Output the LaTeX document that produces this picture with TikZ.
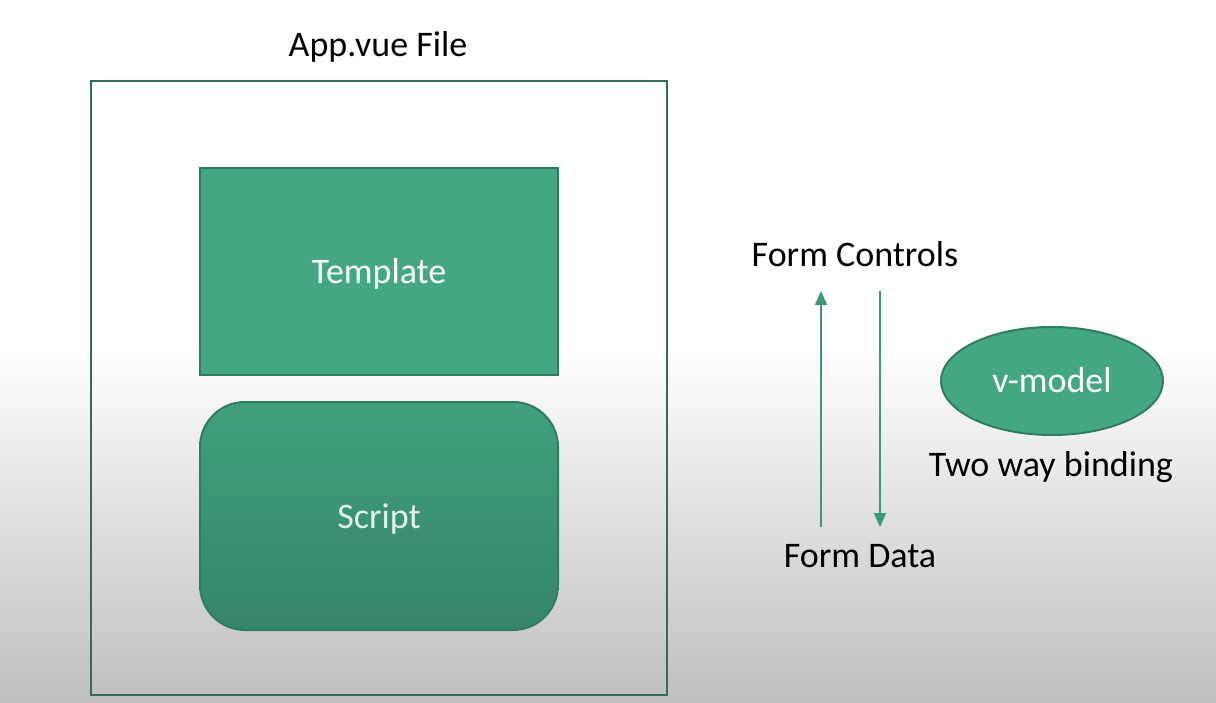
\documentclass[tikz,border=0pt]{standalone}
\usepackage{fontspec}
\setmainfont{Carlito}
\usetikzlibrary{shapes.geometric,arrows.meta}
\definecolor{boxline}{HTML}{2E6E5A}
\definecolor{greenfill}{HTML}{43A881}
\definecolor{greenedge}{HTML}{2F7D60}
\definecolor{scripttop}{HTML}{3FA07C}
\definecolor{scriptbot}{HTML}{358669}
\definecolor{arrowgreen}{HTML}{3A9A78}
\definecolor{bgbot}{HTML}{BFBFBF}
\tikzset{
  bigtext/.style={font=\fontsize{36}{43}\selectfont, text=black, inner sep=0pt, anchor=base},
  whitetext/.style={font=\fontsize{36}{43}\selectfont, text=white, inner sep=0pt, anchor=base},
  flowarrow/.style={draw=arrowgreen, line width=2pt, -{Triangle[width=12pt,length=14pt]}},
}
\begin{document}
\begin{tikzpicture}[x=1pt,y=-1pt]
\useasboundingbox (0,0) rectangle (1216,703);
\fill[white] (0,0) rectangle (1216,703);
\shade[top color=white, bottom color=bgbot] (0,345) rectangle (1216,703);
% outer file box
\draw[boxline, line width=2.5pt] (91,81) rectangle (667,695);
\node[bigtext] (title) at (378,57) {App.vue File};
% template
\draw[greenedge, line width=2pt, fill=greenfill] (200,168) rectangle (558,375);
\node[whitetext] (template) at (379,284) {Template};
% script
\shade[top color=scripttop, bottom color=scriptbot, rounded corners=45pt] (200,402) rectangle (558,630);
\draw[greenedge, line width=2pt, rounded corners=45pt] (200,402) rectangle (558,630);
\node[whitetext, text=white!85!scripttop] (script) at (379,528) {Script};
% form controls / data
\node[bigtext] (fc) at (855,267) {Form Controls};
\node[bigtext] (fd) at (860,567) {Form Data};
\coordinate (upS) at (821,527);
\coordinate (upE) at (821,291);
\coordinate (dnS) at (880,291);
\coordinate (dnE) at (880,527);
\draw[flowarrow] (upS) -- (upE);
\draw[flowarrow] (dnS) -- (dnE);
% v-model
\node[ellipse, draw=greenedge, line width=2pt, fill=greenfill, minimum width=222pt, minimum height=108pt, inner sep=0pt] (vm) at (1052,381) {};
\node[whitetext] (vmt) at (1052,392) {v-model};
\node[bigtext] (twb) at (1051,476) {Two way binding};
\end{tikzpicture}
\end{document}
